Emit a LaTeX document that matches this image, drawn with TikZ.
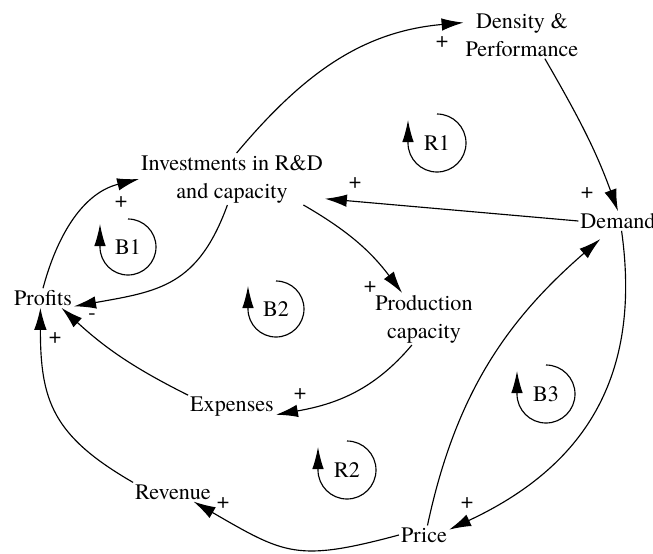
\documentclass[tikz,border=0pt]{standalone}
\usepackage{fontspec}
\setmainfont{TeX Gyre Termes}
\usetikzlibrary{arrows.meta}

\begin{document}
\begin{tikzpicture}[
    x=0.2mm, y=0.2mm,
    var/.style={align=center, inner sep=1pt, font=\rmfamily\fontsize{12.6}{15.9}\selectfont},
    sign/.style={inner sep=0pt, font=\rmfamily\fontsize{12.6}{15}\selectfont},
    loopname/.style={inner sep=0pt, font=\rmfamily\fontsize{12.6}{15}\selectfont},
    link/.style={-{Latex[length=4.4mm,width=2.5mm]}, line width=0.65pt},
    looparc/.style={-{Latex[length=4.4mm,width=2.3mm]}, line width=0.65pt}
  ]
    \useasboundingbox (0,0) rectangle (653,-553);

    % Variables
    \node[var] (dens) at (522,-35) {Density \&\\ Performance};
    \node[var] (inv) at (232,-179) {Investments in R\&D\\ and capacity};
    \node[var] (dem) at (618,-221) {Demand};
    \node[var] (prof) at (43,-298) {Profits};
    \node[var] (prod) at (424,-319) {Production\\ capacity};
    \node[var] (exp) at (232,-407) {Expenses};
    \node[var] (rev) at (173,-492) {Revenue};
    \node[var] (price) at (424,-535) {Price};

    % Links
    \draw[link] (inv.80) to[out=50, in=185] (dens.168);
    \draw[link] (dens.-46) to[out=-60, in=110] (dem.north);
    \draw[link] (dem.west) -- (inv.-12);
    \draw[link] (inv.-20) to[out=-30, in=127] (prod.130);
    \draw[link] (inv.-100) to[out=-110, in=10, looseness=1.2] (prof.-15);
    \draw[link] (prof.north) to[out=75, in=-166] (inv.west);
    \draw[link] (prod.-115) to[out=-130, in=10] (exp.-10);
    \draw[link] (exp.north west) to[bend left=8] (prof.-28);
    \draw[link] (rev.north west) to[out=150, in=-90, looseness=1.2] (prof.-105);
    \draw[link] (price.west) to[out=195, in=-30, looseness=1.3] (rev.-25);
    \draw[link, shorten >=2.5mm] (price.70) to[out=78, in=-139] (dem.-130);
    \draw[link] (dem.-70) to[out=-82, in=25, looseness=1.1] (price.12);

    % Polarities
    \node[sign] (s1) at (442,-42) {+};
    \node[sign] (s2) at (587,-193) {+};
    \node[sign] (s3) at (355,-183) {+};
    \node[sign] (s4) at (370,-287) {+};
    \node[sign] (s5) at (121,-202) {+};
    \node[sign] (s6) at (92,-317) {-};
    \node[sign] (s7) at (300,-394) {+};
    \node[sign] (s8) at (55,-338) {+};
    \node[sign] (s9) at (223,-503) {+};
    \node[sign] (s10) at (467,-503) {+};

    % Loops
    \node[loopname] (r1) at (437,-143) {R1};
    \draw[looparc] ([yshift=5.8mm]r1.center) arc[start angle=90, end angle=-180, radius=5.8mm] -- ++(0mm,4.6mm);
    \node[loopname] (b1) at (128,-247) {B1};
    \draw[looparc] ([yshift=5.6mm]b1.center) arc[start angle=90, end angle=-180, radius=5.6mm] -- ++(0mm,4.6mm);
    \node[loopname] (b2) at (276,-309) {B2};
    \draw[looparc] ([yshift=5.6mm]b2.center) arc[start angle=90, end angle=-180, radius=5.6mm] -- ++(0mm,4.6mm);
    \node[loopname] (r2) at (347,-470) {R2};
    \draw[looparc] ([yshift=5.8mm]r2.center) arc[start angle=90, end angle=-180, radius=5.8mm] -- ++(0mm,4.6mm);
    \node[loopname] (b3) at (546,-394) {B3};
    \draw[looparc] ([yshift=5.8mm]b3.center) arc[start angle=90, end angle=-180, radius=5.8mm] -- ++(0mm,4.6mm);
  \end{tikzpicture}
\end{document}
